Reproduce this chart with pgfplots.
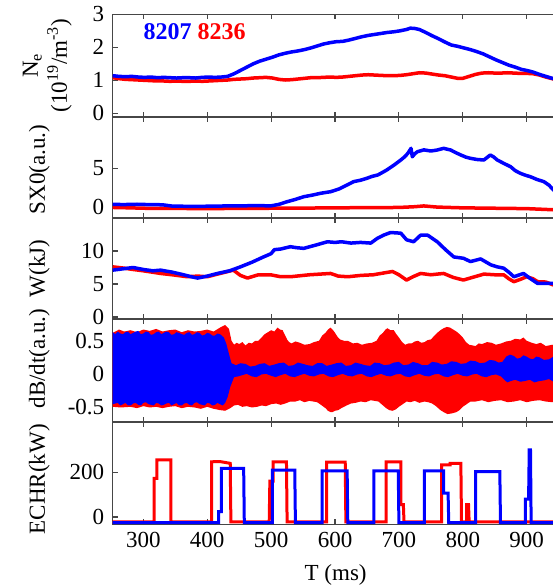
\documentclass[border=0pt]{standalone}
\usepackage{fontspec}
\setmainfont{Liberation Serif}
\usepackage{pgfplots}
\pgfplotsset{compat=1.18}
\definecolor{frame}{RGB}{70,70,70}
\tikzset{lab/.style={rotate=90, anchor=south, font=\fontsize{23}{27}\selectfont, align=center, inner sep=0pt}}
\pgfplotsset{
  panel/.style={
    scale only axis, width=445.9pt, xmin=252, xmax=950,
    xtick={300,400,...,900}, xticklabels={},
    ytick pos=left, tick align=inside,
    major tick length=5pt,
    axis line style={line width=1.2pt, frame},
    every tick/.style={line width=1.2pt, frame},
    tick label style={font=\fontsize{23}{27}\selectfont},
    yticklabel style={xshift=-5pt},
    xticklabel style={yshift=-4pt},
    /pgf/number format/assume math mode=true,
    anchor=south west, clip=true,
  },
  bl/.style={blue, line width=3.5pt, line join=round},
  rd/.style={red, line width=3.5pt, line join=round},
}
\begin{document}
\begin{tikzpicture}
% ---------------- Panel 1: Ne
\begin{axis}[panel, name=p1, at={(0,407.3pt)}, height=102.7pt, ymin=-0.11, ymax=3.0, ytick={0,1,2,3}]
\addplot[rd] coordinates {(252,1.08) (262,1.05) (272,1.03) (282,1.02) (292,1.01) (302,1.00) (312,0.99) (322,0.98) (332,0.98) (342,0.97) (352,0.98) (362,0.97) (372,0.97) (382,0.98) (392,0.97) (402,0.98) (412,0.99) (422,1.00) (432,1.01) (442,1.03) (452,1.04) (462,1.05) (472,1.07) (482,1.08) (492,1.09) (502,1.07) (512,1.03) (522,1.01) (532,1.02) (542,1.04) (552,1.06) (562,1.08) (572,1.08) (582,1.09) (592,1.10) (602,1.09) (612,1.10) (622,1.12) (632,1.14) (642,1.16) (652,1.17) (662,1.16) (672,1.15) (682,1.14) (692,1.14) (702,1.15) (712,1.17) (722,1.20) (732,1.23) (742,1.22) (752,1.19) (762,1.16) (772,1.14) (782,1.10) (792,1.06) (800,1.06) (810,1.12) (820,1.18) (830,1.22) (840,1.23) (850,1.22) (860,1.22) (870,1.23) (880,1.22) (890,1.21) (900,1.21) (910,1.20) (920,1.16) (930,1.10) (942,1.04) (950,1.00)};
\addplot[bl] coordinates {(252,1.14) (262,1.12) (272,1.11) (282,1.12) (292,1.10) (302,1.09) (312,1.10) (322,1.08) (332,1.09) (342,1.08) (352,1.07) (362,1.08) (372,1.08) (382,1.07) (392,1.09) (402,1.10) (412,1.09) (422,1.10) (432,1.12) (442,1.20) (452,1.30) (462,1.40) (472,1.50) (482,1.58) (492,1.64) (502,1.70) (512,1.77) (522,1.82) (532,1.86) (542,1.89) (552,1.93) (562,1.98) (572,2.04) (582,2.10) (592,2.14) (602,2.17) (612,2.18) (622,2.22) (632,2.27) (642,2.32) (652,2.36) (662,2.39) (672,2.42) (682,2.45) (692,2.47) (702,2.50) (712,2.54) (718,2.58) (725,2.57) (732,2.54) (742,2.45) (752,2.35) (762,2.26) (772,2.16) (782,2.07) (792,2.03) (802,1.98) (812,1.93) (822,1.87) (832,1.80) (842,1.71) (852,1.62) (862,1.54) (872,1.46) (882,1.40) (892,1.33) (900,1.30) (910,1.25) (920,1.18) (930,1.12) (942,1.05) (950,1.01)};
\node[anchor=west, font=\fontsize{24}{28}\selectfont\bfseries, inner sep=0pt] at (axis cs:300,2.46) {\textcolor{blue}{8207} \textcolor{red}{8236}};
\end{axis}
\path (p1.west) ++(-40.7pt,0) node[lab] {N\textsubscript{e}\\[2pt](10\textsuperscript{19}/m\textsuperscript{-3})};
% ---------------- Panel 2: SX0
\begin{axis}[panel, name=p2, at={(0,306.3pt)}, height=101pt, ymin=-1.47, ymax=11.68, ytick={0,5}]
\addplot[rd] coordinates {(252,-0.10) (280,-0.15) (300,-0.20) (340,-0.22) (400,-0.25) (450,-0.22) (500,-0.20) (550,-0.18) (600,-0.15) (650,-0.12) (700,-0.10) (725,0.00) (739,0.10) (760,-0.05) (800,-0.15) (850,-0.20) (900,-0.25) (942,-0.40) (950,-0.42)};
\addplot[bl] coordinates {(252,0.30) (270,0.28) (290,0.32) (310,0.27) (330,0.25) (345,0.08) (370,0.05) (400,0.06) (430,0.10) (460,0.12) (480,0.15) (499,0.10) (512,0.30) (525,0.65) (538,0.95) (551,1.30) (564,1.50) (577,1.74) (585,1.85) (593,1.95) (606,2.30) (619,2.83) (629,3.26) (640,3.45) (650,3.70) (658,3.95) (667,4.13) (674,4.45) (681,4.78) (692,5.40) (703,6.08) (709,6.50) (714,6.95) (719,7.60) (721,6.50) (725,6.90) (729,7.16) (735,7.30) (739,7.40) (750,7.25) (760,7.38) (770,7.60) (781,7.38) (790,7.00) (797,6.73) (805,6.45) (812,6.30) (822,6.15) (833,6.08) (843,6.73) (848,6.50) (854,6.08) (864,5.65) (875,5.20) (882,4.70) (890,4.35) (898,4.10) (906,3.90) (916,3.55) (927,3.26) (935,2.80) (942,2.17) (950,1.90)};
\end{axis}
\path (p2.west) ++(-62.7pt,-2pt) node[lab] {SX0(a.u.)};
% ---------------- Panel 3: W
\begin{axis}[panel, name=p3, at={(0,205.3pt)}, height=101pt, ymin=-0.3, ymax=15.0, ytick={0,5,10}]
\addplot[rd] coordinates {(252,7.6) (270,7.4) (284,7.2) (300,7.0) (327,6.6) (345,6.4) (369,6.1) (385,6.2) (400,6.1) (420,6.6) (441,7.1) (452,6.3) (463,5.9) (480,6.4) (499,6.4) (515,6.1) (530,6.1) (560,6.4) (593,6.6) (605,6.2) (620,6.1) (640,6.3) (660,6.4) (690,6.9) (700,6.4) (712,5.6) (722,6.1) (734,6.6) (750,6.4) (770,6.6) (785,6.0) (801,5.6) (815,6.0) (833,6.5) (850,6.4) (864,6.4) (872,5.8) (880,5.35) (890,5.7) (900,6.1) (910,5.8) (917,5.35) (930,5.3) (942,4.85) (950,4.7)};
\addplot[bl] coordinates {(252,7.1) (268,7.3) (284,7.5) (300,7.2) (315,7.0) (327,7.1) (345,6.8) (363,6.4) (375,6.1) (385,5.9) (400,6.2) (416,6.6) (435,7.0) (452,7.6) (470,8.3) (488,9.1) (500,9.6) (505,10.2) (515,10.3) (530,10.65) (540,10.5) (551,10.4) (570,10.9) (588,11.4) (600,11.3) (610,11.4) (625,11.2) (640,11.3) (656,11.2) (666,11.9) (676,12.4) (687,12.8) (703,12.7) (712,11.7) (723,11.4) (734,12.4) (745,12.4) (760,11.4) (773,10.2) (786,9.1) (801,8.9) (812,8.4) (828,8.8) (844,7.9) (854,7.6) (864,7.4) (872,6.8) (880,6.1) (895,6.6) (906,5.8) (917,5.1) (930,5.1) (942,5.1) (950,4.9)};
\end{axis}
\path (p3.west) ++(-62.7pt,0) node[lab] {W(kJ)};
% ---------------- Panel 4: dB/dt
\begin{axis}[panel, name=p4, at={(0,102.3pt)}, height=103pt, ymin=-0.73, ymax=0.83, ytick={-0.5,0,0.5}]
\addplot[fill=red, draw=none] coordinates {(252,0.62) (262,0.67) (270,0.64) (280,0.66) (290,0.63) (300,0.67) (310,0.65) (320,0.68) (330,0.64) (340,0.66) (350,0.67) (360,0.63) (370,0.66) (380,0.64) (390,0.65) (400,0.67) (410,0.64) (420,0.70) (428,0.74) (434,0.68) (438,0.50) (442,0.44) (446,0.47) (450,0.45) (455,0.48) (460,0.43) (465,0.47) (470,0.46) (475,0.50) (480,0.50) (485,0.55) (490,0.60) (495,0.63) (500,0.66) (505,0.64) (510,0.70) (514,0.67) (518,0.66) (522,0.58) (525,0.52) (528,0.48) (532,0.46) (538,0.49) (545,0.47) (552,0.44) (560,0.45) (567,0.48) (575,0.50) (580,0.58) (585,0.62) (589,0.67) (593,0.70) (597,0.66) (600,0.62) (604,0.56) (608,0.52) (614,0.50) (620,0.50) (628,0.46) (635,0.47) (642,0.44) (650,0.46) (658,0.47) (665,0.50) (670,0.58) (675,0.62) (679,0.67) (682,0.69) (687,0.66) (692,0.66) (696,0.60) (700,0.55) (705,0.48) (710,0.44) (715,0.46) (720,0.46) (725,0.49) (730,0.50) (735,0.47) (740,0.48) (745,0.51) (750,0.52) (755,0.57) (760,0.62) (765,0.66) (770,0.69) (775,0.71) (780,0.70) (785,0.67) (790,0.64) (795,0.60) (800,0.55) (805,0.48) (810,0.44) (815,0.43) (820,0.42) (825,0.46) (830,0.45) (838,0.48) (845,0.47) (852,0.44) (860,0.46) (868,0.49) (875,0.50) (882,0.53) (890,0.52) (895,0.55) (900,0.50) (908,0.47) (915,0.45) (922,0.47) (930,0.42) (940,0.44) (950,0.41)
 (950,-0.40) (940,-0.43) (930,-0.42) (920,-0.40) (910,-0.41) (900,-0.43) (890,-0.40) (880,-0.42) (870,-0.43) (860,-0.40) (850,-0.41) (840,-0.43) (830,-0.40) (820,-0.42) (812,-0.42) (806,-0.46) (800,-0.50) (795,-0.55) (790,-0.58) (783,-0.60) (776,-0.61) (770,-0.58) (765,-0.55) (758,-0.49) (752,-0.45) (746,-0.43) (740,-0.42) (732,-0.44) (725,-0.41) (718,-0.43) (712,-0.42) (706,-0.46) (700,-0.50) (695,-0.54) (690,-0.56) (685,-0.55) (680,-0.52) (674,-0.47) (668,-0.42) (662,-0.41) (656,-0.40) (648,-0.43) (640,-0.42) (632,-0.44) (625,-0.45) (618,-0.48) (610,-0.52) (605,-0.55) (600,-0.56) (596,-0.58) (593,-0.58) (589,-0.56) (585,-0.52) (578,-0.47) (572,-0.43) (566,-0.42) (560,-0.41) (552,-0.43) (545,-0.40) (538,-0.42) (530,-0.42) (522,-0.45) (515,-0.47) (508,-0.45) (500,-0.46) (492,-0.49) (485,-0.48) (478,-0.50) (470,-0.51) (462,-0.49) (455,-0.50) (448,-0.47) (442,-0.48) (436,-0.52) (428,-0.56) (420,-0.55) (410,-0.53) (400,-0.50) (390,-0.53) (380,-0.51) (370,-0.50) (360,-0.52) (350,-0.49) (340,-0.50) (330,-0.52) (320,-0.50) (310,-0.51) (300,-0.49) (290,-0.52) (280,-0.50) (265,-0.51) (252,-0.50)} -- cycle;
\addplot[fill=blue, draw=none] coordinates {(252,0.63) (256,0.60) (260,0.64) (264,0.61) (268,0.60) (272,0.63) (276,0.64) (280,0.60) (284,0.62) (288,0.64) (292,0.65) (296,0.60) (300,0.61) (304,0.64) (308,0.63) (312,0.59) (316,0.60) (320,0.63) (324,0.64) (328,0.60) (332,0.62) (336,0.64) (340,0.63) (344,0.59) (348,0.60) (352,0.63) (356,0.62) (360,0.60) (364,0.59) (368,0.62) (372,0.63) (376,0.59) (380,0.60) (384,0.63) (388,0.62) (392,0.58) (396,0.59) (400,0.62) (404,0.61) (408,0.58) (412,0.58) (416,0.61) (420,0.60) (426,0.55) (430,0.45) (434,0.30) (438,0.16) (445,0.13) (452,0.16) (460,0.15) (467,0.11) (475,0.12) (482,0.15) (490,0.16) (497,0.12) (505,0.14) (512,0.16) (520,0.17) (527,0.12) (535,0.13) (542,0.17) (550,0.15) (557,0.13) (565,0.12) (572,0.16) (580,0.16) (587,0.12) (595,0.14) (602,0.16) (610,0.17) (617,0.12) (625,0.13) (632,0.17) (640,0.15) (647,0.13) (655,0.12) (662,0.17) (670,0.16) (677,0.13) (685,0.14) (692,0.17) (700,0.18) (707,0.13) (715,0.14) (722,0.18) (730,0.16) (737,0.13) (745,0.13) (752,0.18) (760,0.17) (767,0.14) (775,0.15) (782,0.19) (790,0.18) (797,0.15) (805,0.16) (812,0.20) (820,0.19) (827,0.16) (835,0.17) (842,0.21) (850,0.20) (856,0.17) (862,0.18) (868,0.26) (874,0.29) (880,0.27) (885,0.23) (890,0.24) (895,0.28) (900,0.26) (905,0.23) (910,0.22) (915,0.26) (920,0.25) (927,0.21) (935,0.22) (942,0.26) (950,0.24)
 (950,-0.10) (942,-0.12) (935,-0.08) (927,-0.10) (920,-0.11) (912,-0.13) (905,-0.09) (897,-0.11) (890,-0.12) (882,-0.09) (875,-0.11) (870,-0.13) (866,-0.10) (860,-0.04) (852,-0.01) (845,-0.02) (837,-0.05) (830,-0.04) (822,0.00) (815,-0.01) (807,-0.04) (800,-0.03) (792,0.00) (785,-0.02) (777,-0.05) (770,-0.04) (762,0.00) (755,-0.01) (747,-0.04) (740,-0.03) (732,0.00) (725,-0.02) (717,-0.05) (710,-0.04) (702,0.00) (695,-0.01) (687,-0.04) (680,-0.03) (672,0.00) (665,-0.02) (657,-0.05) (650,-0.04) (642,0.00) (635,-0.01) (627,-0.04) (620,-0.03) (612,0.00) (605,-0.02) (597,-0.05) (590,-0.04) (582,0.00) (575,-0.01) (567,-0.04) (560,-0.03) (552,0.00) (545,-0.02) (537,-0.05) (530,-0.04) (522,0.00) (515,-0.02) (507,-0.05) (500,-0.03) (492,0.00) (485,-0.01) (477,-0.05) (470,-0.04) (462,0.00) (455,-0.02) (448,-0.04) (442,-0.05) (436,-0.20) (432,-0.35) (428,-0.44) (424,-0.48) (420,-0.46) (416,-0.44) (412,-0.47) (408,-0.48) (404,-0.45) (400,-0.44) (396,-0.48) (392,-0.47) (388,-0.46) (384,-0.43) (380,-0.44) (376,-0.48) (372,-0.47) (368,-0.44) (364,-0.45) (360,-0.48) (356,-0.48) (352,-0.44) (348,-0.46) (344,-0.48) (340,-0.44) (336,-0.45) (332,-0.47) (328,-0.48) (324,-0.45) (320,-0.44) (316,-0.48) (312,-0.47) (308,-0.46) (304,-0.43) (300,-0.44) (296,-0.48) (292,-0.47) (288,-0.44) (284,-0.45) (280,-0.48) (276,-0.48) (272,-0.44) (268,-0.46) (264,-0.48) (260,-0.44) (256,-0.45) (252,-0.46)} -- cycle;
\end{axis}
\path (p4.west) ++(-62.7pt,12pt) node[lab] {dB/dt(a.u.)};
% ---------------- Panel 5: ECHR
\begin{axis}[panel, name=p5, at={(0,0pt)}, height=102.3pt, ymin=-32.7, ymax=425, ytick={0,200},
  xticklabels={300,400,500,600,700,800,900},
  xlabel={T (ms)},
  xlabel style={font=\fontsize{23}{27}\selectfont, at={(axis description cs:0.5,-0.5)}, anchor=center}]
\addplot[red, line width=3pt] coordinates {(252,-22) (317,-22) (317,173) (321,173) (321,255) (343,255) (343,-22) (407,-22) (407,247) (420,248) (436,240) (437,-22) (497,-22) (498,160) (503,160) (503,247) (524,247) (525,-22) (587,-22) (587,245) (616,245) (617,-22) (680,-22) (680,247) (703,247) (703,55) (707,55) (708,-22) (767,-22) (767,233) (780,233) (780,240) (797,240) (798,-22) (806,-22) (806,55) (809,55) (810,-22) (950,-22)};
\addplot[blue, line width=3pt] coordinates {(252,-25) (418,-25) (418,24) (422,24) (422,218) (457,218) (458,-25) (502,-25) (502,210) (537,210) (538,-25) (580,-25) (580,206) (619,206) (620,-25) (661,-25) (661,206) (699,206) (700,-25) (740,-25) (740,206) (770,206) (770,107) (777,107) (778,-25) (820,-25) (820,203) (858,203) (859,-25) (898,-25) (898,80) (903,80) (904,300) (906,300) (907,-25) (950,-25)};
\end{axis}
\path (p5.west) ++(-62.7pt,-6pt) node[lab] {ECHR(kW)};
\pgfresetboundingbox
\path[use as bounding box] (-112.7pt,-63.7pt) rectangle (440.3pt,524.3pt);
\end{tikzpicture}
\end{document}
